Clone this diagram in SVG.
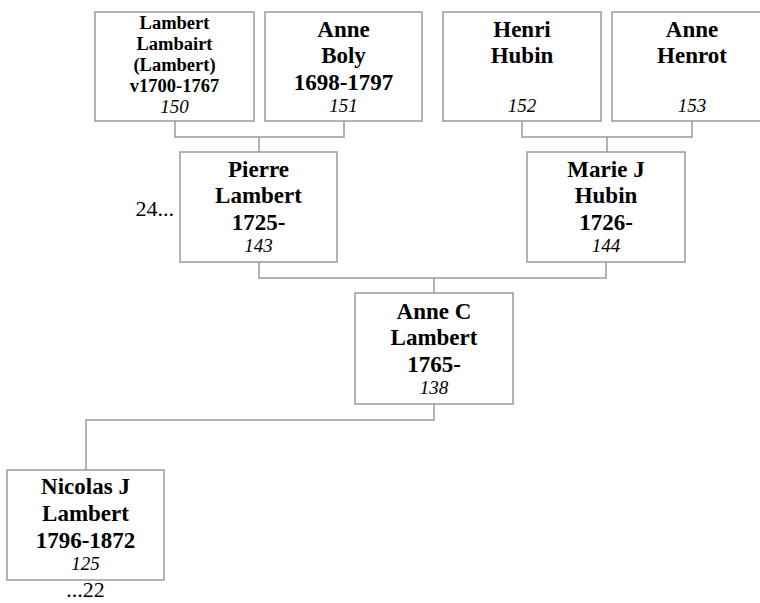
<svg xmlns="http://www.w3.org/2000/svg" width="760" height="603" viewBox="0 0 760 603">
<style>
.box{fill:#fff;stroke:#999;stroke-width:1.5}
.ln{fill:none;stroke:#999;stroke-width:1.5}
.n{font-family:"Liberation Serif","Times New Roman",serif;font-weight:bold;font-size:23px;text-anchor:middle;fill:#000}
.s{font-family:"Liberation Serif","Times New Roman",serif;font-weight:bold;font-size:18.5px;text-anchor:middle;fill:#000}
.id{font-family:"Liberation Serif","Times New Roman",serif;font-style:italic;font-size:19px;text-anchor:middle;fill:#000}
.t{font-family:"Liberation Serif","Times New Roman",serif;font-size:22px;fill:#000}
</style>
<rect width="760" height="603" fill="#fff"/>
<g id="connectors">
<polyline class="ln" points="175,121 175,137 344,137 344,121"/>
<line class="ln" x1="259" y1="137" x2="259" y2="152"/>
<polyline class="ln" points="522,121 522,137 692,137 692,121"/>
<line class="ln" x1="607" y1="137" x2="607" y2="152"/>
<polyline class="ln" points="259,262 259,278 606,278 606,262"/>
<line class="ln" x1="434" y1="278" x2="434" y2="293"/>
<polyline class="ln" points="434,404 434,420 86,420 86,470"/>
</g>
<g id="n150">
<rect class="box" x="95" y="12" width="159" height="109"/>
<text class="s" x="174.5" y="29">Lambert</text>
<text class="s" x="174.5" y="50">Lambairt</text>
<text class="s" x="174.5" y="71">(Lambert)</text>
<text class="s" x="174.5" y="92">v1700-1767</text>
<text class="id" x="174.5" y="113">150</text>
</g>
<g id="n151">
<rect class="box" x="265" y="12" width="157" height="109"/>
<text class="n" x="343.5" y="37">Anne</text>
<text class="n" x="343.5" y="63">Boly</text>
<text class="n" x="343.5" y="90">1698-1797</text>
<text class="id" x="343.5" y="112">151</text>
</g>
<g id="n152">
<rect class="box" x="443" y="12" width="158" height="109"/>
<text class="n" x="522" y="37">Henri</text>
<text class="n" x="522" y="63">Hubin</text>
<text class="id" x="522" y="112">152</text>
</g>
<g id="n153">
<rect class="box" x="612" y="12" width="160" height="109"/>
<text class="n" x="692" y="37">Anne</text>
<text class="n" x="692" y="63">Henrot</text>
<text class="id" x="692" y="112">153</text>
</g>
<g id="n143">
<rect class="box" x="180" y="152" width="157" height="110"/>
<text class="n" x="258.5" y="177">Pierre</text>
<text class="n" x="258.5" y="203">Lambert</text>
<text class="n" x="258.5" y="230">1725-</text>
<text class="id" x="258.5" y="252">143</text>
<text class="t" x="174" y="216" text-anchor="end">24...</text>
</g>
<g id="n144">
<rect class="box" x="527" y="152" width="158" height="110"/>
<text class="n" x="606" y="177">Marie J</text>
<text class="n" x="606" y="203">Hubin</text>
<text class="n" x="606" y="230">1726-</text>
<text class="id" x="606" y="252">144</text>
</g>
<g id="n138">
<rect class="box" x="355" y="293" width="158" height="111"/>
<text class="n" x="434" y="319">Anne C</text>
<text class="n" x="434" y="345">Lambert</text>
<text class="n" x="434" y="372">1765-</text>
<text class="id" x="434" y="394">138</text>
</g>
<g id="n125">
<rect class="box" x="7" y="470" width="157" height="110"/>
<text class="n" x="85.5" y="494">Nicolas J</text>
<text class="n" x="85.5" y="521">Lambert</text>
<text class="n" x="85.5" y="548">1796-1872</text>
<text class="id" x="85.5" y="570">125</text>
<text class="t" x="85.5" y="597" text-anchor="middle">...22</text>
</g>
</svg>
